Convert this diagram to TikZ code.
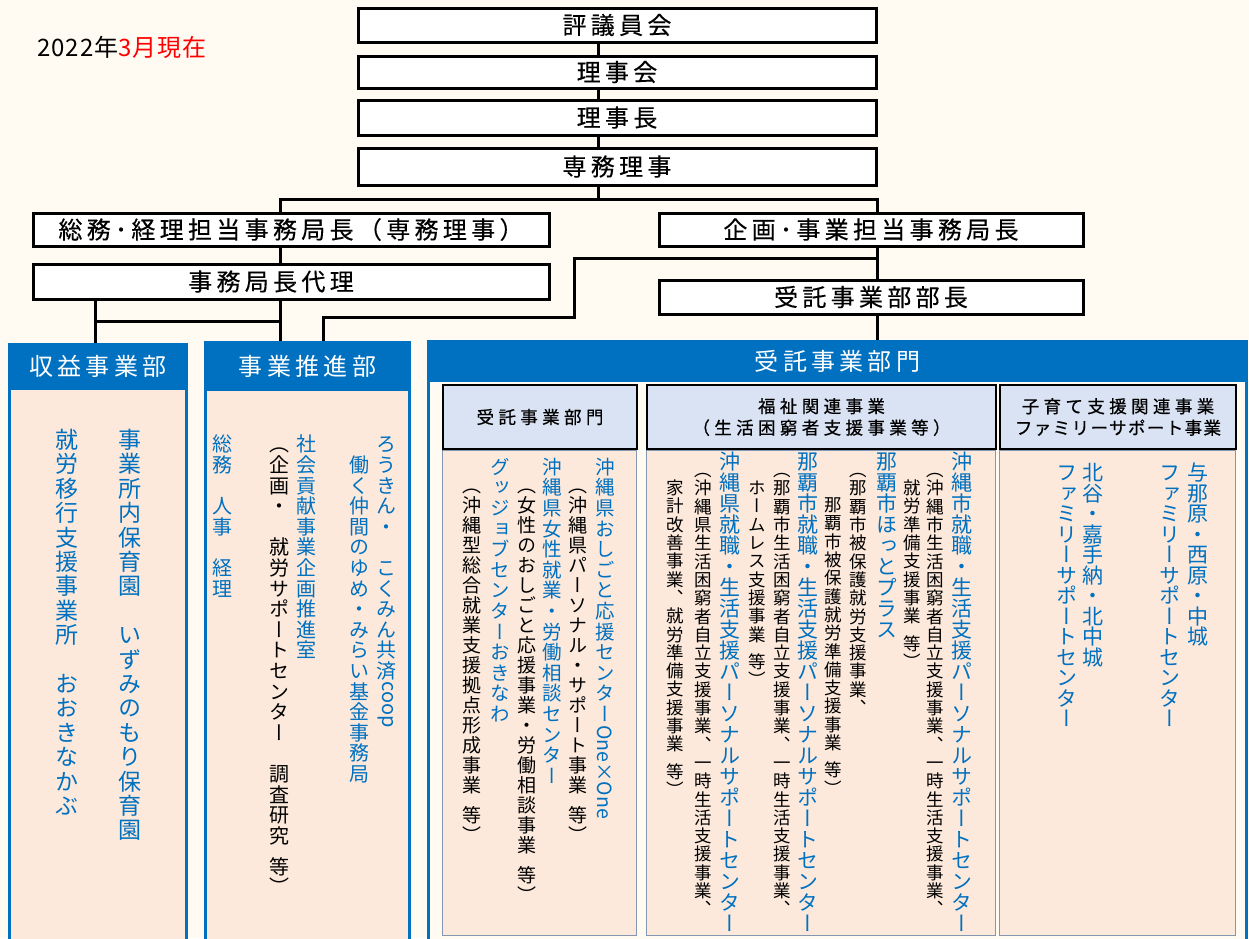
\documentclass[tikz,border=0pt]{standalone}
\usepackage{fontspec}
\usepackage{graphicx}
\setmainfont{Noto Sans CJK JP}
\newfontfamily\vjp[RawFeature=+vert]{Noto Sans CJK JP}
\definecolor{bg}{HTML}{FFFBF3}
\definecolor{oblue}{HTML}{0070C0}
\definecolor{peach}{HTML}{FCE9DB}
\definecolor{lblue}{HTML}{DAE3F3}
\definecolor{gborder}{HTML}{8497B0}
\newcommand\fsz[1]{\fontsize{#1}{#1}\selectfont}
\newlength\vp
\makeatletter
\def\vhalf{\vhalf@mark}
\def\vcol@end{\vcol@end@mark}
\newcommand\vlat[1]{\raisebox{.88em}{\rotatebox{-90}{#1}}}
\newcommand\vcol[2]{\vp=#1pt\relax\vbox{\offinterlineskip\vcol@loop#2\vcol@end}}
\def\vcol@loop#1{%
  \ifx\vcol@end#1\else
    \ifx\vhalf#1\vskip.5\vp\else
      \hbox to 1em{\hss\vrule height .88em depth .12em width 0pt\relax#1\hss}\vskip\dimexpr\vp-1em\relax
    \fi
    \expandafter\vcol@loop
  \fi}
\makeatother
\newcommand\vnode[7]{\node[vt, text=#6, font=\vjp\fsz{#4}] (#1) at (#2,#3) {\vcol{#5}{#7}};}
\begin{document}
\begin{tikzpicture}[x=1pt,y=-1pt,
  topbox/.style={draw=black, line width=3pt, fill=white, inner sep=0pt, anchor=center,
    font=\fsz{24}\addfontfeatures{LetterSpace=18,FakeBold=0.3}},
  conn/.style={line width=3pt, black},
  colbody/.style={draw=oblue, line width=3pt, fill=peach, inner sep=0pt, anchor=north west},
  colhead/.style={draw=oblue, line width=3pt, fill=oblue, text=white, inner sep=0pt, anchor=north west,
    font=\fsz{24}\addfontfeatures{LetterSpace=18}},
  inhead/.style={draw=black, line width=2pt, fill=lblue, inner sep=0pt, anchor=north west, align=center,
    font=\fsz{17.5}\addfontfeatures{LetterSpace=25,FakeBold=0.6}},
  inbody/.style={draw=gborder, line width=1.2pt, fill=peach, inner sep=0pt, anchor=north west},
  vt/.style={inner sep=0pt, anchor=north}
]
\useasboundingbox (0,0) rectangle (1249,938);
\fill[bg] (0,0) rectangle (1249,938);

% date
\node[anchor=west, inner sep=0pt, font=\fsz{24}\addfontfeatures{LetterSpace=4}] (date) at (37,47) {2022年\textcolor{red}{3月現在}};

% top chain
\node[topbox, minimum width=518, minimum height=34] (hyo) at (617,25) {評議員会};
\node[topbox, minimum width=518, minimum height=32] (rijikai) at (617,72) {理事会};
\node[topbox, minimum width=518, minimum height=35] (rijicho) at (617,117.5) {理事長};
\node[topbox, minimum width=518, minimum height=37] (senmu) at (617,166.5) {専務理事};
\node[topbox, minimum width=516, minimum height=33] (somu) at (291,229.5) {総務･経理担当事務局長（専務理事）};
\node[topbox, minimum width=424, minimum height=33] (kikaku) at (871,229.5) {企画･事業担当事務局長};
\node[topbox, minimum width=516, minimum height=35] (dairi) at (291,281.5) {事務局長代理\hspace*{40pt}};
\node[topbox, minimum width=424, minimum height=34] (jbucho) at (871,297) {受託事業部部長};

% column boxes
\node[colbody, minimum width=177, minimum height=600] (shuekibody) at (8,365) {};
\node[colbody, minimum width=204, minimum height=600] (suishinbody) at (204,365) {};
\node[colbody, fill=bg, minimum width=818, minimum height=600] (jutakubody) at (427,360) {};
\node[colhead, minimum width=177, minimum height=44] (shuekihead) at (8,343) {収益事業部};
\node[colhead, minimum width=204, minimum height=47] (suishinhead) at (204,341) {事業推進部};
\node[colhead, minimum width=818, minimum height=39] (jutakuhead) at (427,340) {受託事業部門};

% inner boxes
\node[inbody, minimum width=194, minimum height=485] (ib1) at (442,450) {};
\node[inbody, minimum width=349, minimum height=485] (ib2) at (646,450) {};
\node[inbody, minimum width=236, minimum height=485] (ib3) at (999,450) {};
\node[inhead, minimum width=194, minimum height=64] (ih1) at (442,384) {受託事業部門};
\node[inhead, minimum width=349, minimum height=64] (ih2) at (646,384) {福祉関連事業\\[4pt]（生活困窮者支援事業等）};
\node[inhead, minimum width=236, minimum height=64] (ih3) at (999,384) {子育て支援関連事業\\[4pt]{\addfontfeatures{LetterSpace=8}ファミリーサポート事業}};

% connectors
\coordinate (sp) at (598,199);
\coordinate (lx) at (280,199);
\coordinate (rx) at (877,199);
\coordinate (ly) at (95,321);
\coordinate (b1) at (877,258);
\coordinate (b2) at (574,258);
\coordinate (b3) at (574,317);
\coordinate (b4) at (323,317);
\draw[conn] (hyo.south -| sp) -- (rijikai.north -| sp);
\draw[conn] (rijikai.south -| sp) -- (rijicho.north -| sp);
\draw[conn] (rijicho.south -| sp) -- (senmu.north -| sp);
\draw[conn] (senmu.south -| sp) -- (sp);
\draw[conn] (somu.north -| lx) -- (lx) -- (rx) -- (kikaku.north -| rx);
\draw[conn] (somu.south -| lx) -- (dairi.north -| lx);
\draw[conn] (dairi.south -| lx) -- (suishinhead.north -| lx);
\draw[conn] (dairi.south -| ly) -- (shuekihead.north -| ly);
\draw[conn] (ly) -- (ly -| lx);
\draw[conn] (kikaku.south -| rx) -- (jbucho.north -| rx);
\draw[conn] (b1) -- (b2) -- (b3) -- (b4) -- (suishinhead.north -| b4);
\draw[conn] (jbucho.south -| rx) -- (jutakuhead.north -| rx);

% vertical texts: 収益事業部
\vnode{a1}{130}{428}{23}{24.4}{oblue}{事業所内保育園　いずみのもり保育園}
\vnode{a2}{67}{428}{23}{24.4}{oblue}{就労移行支援事業所　おおきなかぶ}
% 事業推進部
\vnode{b1t}{386}{434}{20}{20.6}{oblue}{ろうきん・　こくみん共済{\vlat{coop}}}
\vnode{b2t}{359}{454.6}{20}{20.6}{oblue}{働く仲間のゆめ・みらい基金事務局}
\vnode{b3t}{306}{434}{20}{20.6}{oblue}{社会貢献事業企画推進室}
\vnode{b4t}{279}{434}{20}{20.6}{black}{（企画・　就労サポートセンター　調査研究\vhalf 等）}
\vnode{b5t}{222}{434}{20}{20.6}{oblue}{総務　人事　経理}
% 受託事業部門 body 1
\vnode{c1}{605}{457}{19.5}{20.6}{oblue}{沖縄県おしごと応援センター{\vlat{One×One}}}
\vnode{c2}{578}{476}{19}{20}{black}{（沖縄県パーソナル・サポート事業\vhalf 等）}
\vnode{c3}{552}{457}{19.5}{20.6}{oblue}{沖縄県女性就業・労働相談センター}
\vnode{c4}{527}{476}{19}{20}{black}{（女性のおしごと応援事業・労働相談事業\vhalf 等）}
\vnode{c5}{500}{457}{19.5}{20.6}{oblue}{グッジョブセンターおきなわ}
\vnode{c6}{472}{476}{19}{20}{black}{（沖縄型総合就業支援拠点形成事業\vhalf 等）}
% body 2
\vnode{d1}{962}{451}{21}{21}{oblue}{沖縄市就職・生活支援パーソナルサポートセンター}
\vnode{d2}{935}{461}{17.5}{18.3}{black}{（沖縄市生活困窮者自立支援事業、一時生活支援事業、}
\vnode{d3}{912}{479}{17.5}{18.3}{black}{就労準備支援事業\vhalf 等）}
\vnode{d4}{887}{451}{21}{21}{oblue}{那覇市ほっとプラス}
\vnode{d5}{858}{461}{17.5}{18.3}{black}{（那覇市被保護就労支援事業、}
\vnode{d6}{833}{496}{17.5}{18.3}{black}{那覇市被保護就労準備支援事業\vhalf 等）}
\vnode{d7}{808}{451}{21}{21}{oblue}{那覇市就職・生活支援パーソナルサポートセンター}
\vnode{d8}{782}{461}{17.5}{18.3}{black}{（那覇市生活困窮者自立支援事業、一時生活支援事業、}
\vnode{d9}{757}{479}{17.5}{18.3}{black}{ホームレス支援事業\vhalf 等）}
\vnode{d10}{730}{451}{21}{21}{oblue}{沖縄県就職・生活支援パーソナルサポートセンター}
\vnode{d11}{703}{461}{17.5}{18.3}{black}{（沖縄県生活困窮者自立支援事業、一時生活支援事業、}
\vnode{d12}{675}{479}{17.5}{18.3}{black}{家計改善事業、就労準備支援事業\vhalf 等）}
% body 3
\vnode{e1}{1198}{462}{21}{20.5}{oblue}{与那原・西原・中城}
\vnode{e2}{1170}{462}{21}{20.5}{oblue}{ファミリーサポートセンター}
\vnode{e3}{1093}{462}{21}{20.5}{oblue}{北谷・嘉手納・北中城}
\vnode{e4}{1067}{462}{21}{20.5}{oblue}{ファミリーサポートセンター}
\end{tikzpicture}
\end{document}
